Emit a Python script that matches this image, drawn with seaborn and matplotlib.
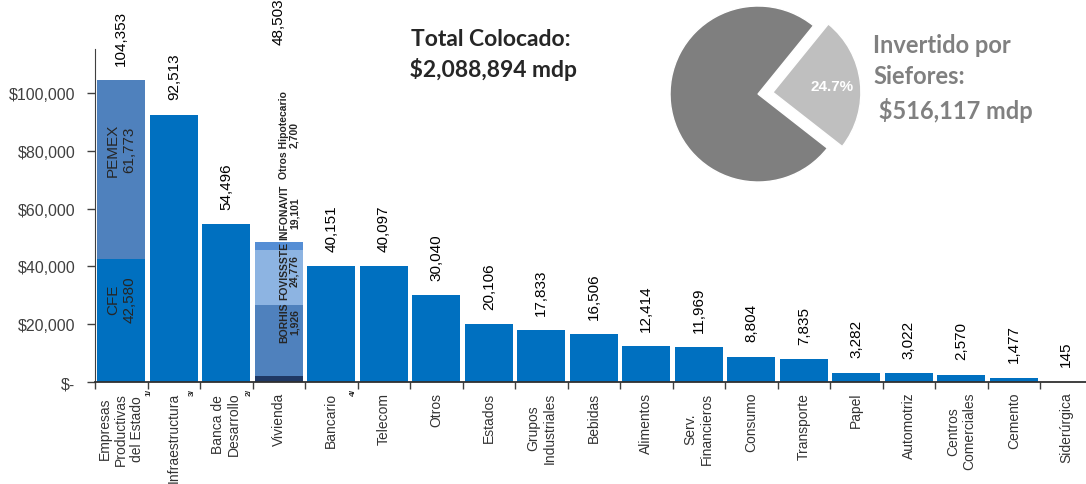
import matplotlib
matplotlib.use("Agg")
import matplotlib.pyplot as plt
import numpy as np
import pandas as pd
import seaborn as sns

categories = [
    "Empresas\nProductivas\ndel Estado", "Infraestructura", "Banca de\nDesarrollo",
    "Vivienda", "Bancario", "Telecom", "Otros", "Estados", "Grupos\nIndustriales",
    "Bebidas", "Alimentos", "Serv.\nFinancieros", "Consumo", "Transporte", "Papel",
    "Automotriz", "Centros\nComerciales", "Cemento", "Siderúrgica",
]
values = [104353, 92513, 54496, 48503, 40151, 40097, 30040, 20106, 17833, 16506,
          12414, 11969, 8804, 7835, 3282, 3022, 2570, 1477, 145]
footnotes = {0: "1/", 1: "3/", 2: "2/", 4: "4/"}

# stacked parts (bottom -> top)
epe_parts = ["CFE", "PEMEX"]
epe_values = [42580, 61773]
viv_parts = ["BORHIS", "FOVISSSTE", "INFONAVIT", "Otros Hipotecario"]
viv_values = [1926, 24776, 19101, 2700]

pie_labels = ["Siefores", "Resto"]
pie_values = [516117, 2088894 - 516117]

MAIN = "#0070C0"
epe_colors = [MAIN, "#4F81BD"]
viv_colors = ["#1F3864", "#4F81BD", "#8DB4E2", "#558ED5"]


def main():
    sns.set_style("white")
    plt.rcParams["font.family"] = ["Liberation Sans", "DejaVu Sans"]

    fig = plt.figure(figsize=(10.86, 4.85), dpi=100)
    ax = fig.add_axes([0.0875, 0.2103, 0.9185, 0.6866])

    df = pd.DataFrame({"cat": categories, "val": values})
    sns.barplot(data=df, x="cat", y="val", order=categories, color=MAIN,
                saturation=1, width=0.92, linewidth=0, ax=ax)

    # stacked segments drawn as cumulative bars, tallest first
    layers = []
    for cat, parts, vals, cols in [(categories[0], epe_parts, epe_values, epe_colors),
                                   (categories[3], viv_parts, viv_values, viv_colors)]:
        tops = np.cumsum(vals)
        for top, col in zip(tops, cols):
            layers.append((cat, top, col))
    layers.sort(key=lambda t: -t[1])
    for cat, top, col in layers:
        sns.barplot(data=pd.DataFrame({"cat": [cat], "val": [top]}), x="cat", y="val",
                    order=categories, color=col, saturation=1, width=0.92,
                    linewidth=0, ax=ax)

    # value labels
    label_lift = {3: 63000}
    for i, v in enumerate(values):
        ax.annotate(f"{v:,}", xy=(i, v + label_lift.get(i, 0)), xytext=(0, 11),
                    textcoords="offset points", rotation=90, ha="center",
                    va="bottom", fontsize=11, color="black")

    # segment labels
    ax.text(0, 80600, f"{epe_parts[1]}\n{epe_values[1]:,}", rotation=90, ha="center",
            va="center", fontsize=11)
    ax.text(0, 28700, f"{epe_parts[0]}\n{epe_values[0]:,}", rotation=90, ha="center",
            va="center", fontsize=11)
    viv_text_y = [21000, 38800, 58900, 85800]
    for name, v, y in zip(viv_parts, viv_values, viv_text_y):
        ax.text(3.2, y, f"{name}\n{v:,}", rotation=90, ha="center", va="center",
                fontsize=7.5, fontweight="bold", linespacing=1.05)

    # axes styling
    ax.set_xlim(-0.5, 18.5)
    ax.set_ylim(0, 115200)
    ax.set_yticks(np.arange(0, 100001, 20000))
    ax.set_yticklabels(["$-" if t == 0 else f"${t:,}" for t in range(0, 100001, 20000)],
                       fontsize=11.5, color="#404040")
    ax.set_xticks(range(len(categories)))
    ax.set_xticklabels(categories, rotation=90, fontsize=10, color="#333333",
                       va="top", ha="center")
    ax.set_xticks(np.arange(-0.5, len(categories), 1), minor=True)
    ax.tick_params(axis="x", which="major", length=0, pad=7)
    ax.tick_params(axis="x", which="minor", length=5, width=1, color="#404040",
                   direction="out", bottom=True)
    ax.tick_params(axis="y", length=6, width=1, color="#404040", direction="out",
                   left=True, pad=8)
    ax.set_xlabel("")
    ax.set_ylabel("")
    sns.despine(ax=ax)
    ax.spines["left"].set_color("#404040")
    ax.spines["bottom"].set_color("#303030")
    ax.spines["bottom"].set_linewidth(1.3)

    foot_x = {0: 0.53, 1: 1.35, 2: 2.43, 4: 4.42}
    for i, note in footnotes.items():
        ax.annotate(note, xy=(foot_x[i], 0), xycoords=("data", "axes fraction"),
                    xytext=(0, -4), textcoords="offset points", rotation=90,
                    ha="center", va="top", fontsize=6, fontweight="bold")

    fig.text(0.452, 0.887, "Total Colocado:\n $2,088,894 mdp", ha="center",
             va="center", fontsize=16.5, fontweight="bold", family="Lato",
             linespacing=1.45)

    # pie
    pax = fig.add_axes([0.5967, 0.5773, 0.2026, 0.4536])
    pax.pie(pie_values, colors=["#BFBFBF", "#7F7F7F"], startangle=-38,
            explode=[0.17, 0], radius=1, pctdistance=0.68,
            autopct=lambda p: f"{p:.1f}%" if p < 50 else "",
            textprops=dict(color="white", fontweight="bold", fontsize=11))
    pax.set_xlim(-1.25, 1.25)
    pax.set_ylim(-1.25, 1.25)
    pax.axis("off")

    fig.text(0.804, 0.839, "Invertido por\nSiefores:\n $516,117 mdp", ha="left",
             va="center", fontsize=17, fontweight="bold", family="Lato",
             color="#808080", linespacing=1.45)

    fig.savefig("out.png", dpi=100)


if __name__ == "__main__":
    main()
